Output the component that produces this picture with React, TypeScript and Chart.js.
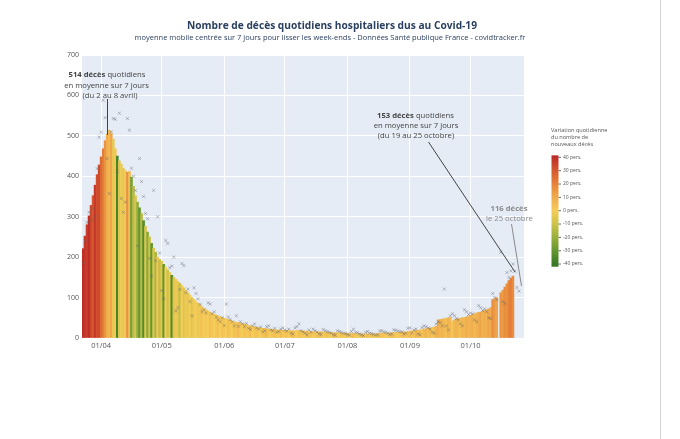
import React, { useEffect, useRef } from "react";
import { Chart, registerables } from "chart.js";

Chart.register(...registerables);

// ---- data (starting 23 March 2020) ----
const START_YEAR = 2020;
const START_MONTH = 2; // March (0-based)
const START_DAY = 23;
const N_DAYS = 219; // axis range 23/03 -> 27/10

// 7-day centred moving average of hospital deaths
const avgMarch = [221, 252, 280, 302, 328, 352, 378, 404, 428];
const avgApril = [448, 468, 488, 504, 514, 506, 492, 468, 450, 438, 430, 420, 414, 410, 412, 398, 375, 352, 336, 322, 308, 290, 276, 262, 250, 234, 222, 212, 200, 194];
const avgMay = [190, 182, 175, 168, 162, 155, 150, 145, 140, 135, 130, 124, 118, 112, 106, 100, 95, 90, 86, 82, 77, 73, 70, 67, 64, 61, 59, 57, 55, 53, 51];
const avgJune = [49, 47, 46, 44, 42, 40, 39, 38, 37, 36, 35, 33, 31, 30, 29, 28, 27, 26, 25, 24, 24, 23, 22, 22, 21, 21, 20, 20, 19, 19];
const avgJuly = [19, 19, 19, 18, 18, 18, 19, 19, 18, 18, 17, 17, 16, 16, 16, 15, 15, 15, 15, 15, 15, 14, 14, 14, 13, 13, 13, 13, 12, 12, 12];
const avgAugust = [12, 12, 11, 11, 11, 11, 11, 10, 10, 10, 10, 10, 10, 10, 11, 11, 11, 12, 12, 12, 12, 13, 13, 13, 14, 14, 14, 15, 15, 15, 16];
const avgSeptember = [17, 18, 18, 19, 19, 20, 21, 22, 23, 24, 25, 26, 27, 29, 45, 46, 47, 48, 49, 50, 51, 42, 45, 47, 48, 49, 50, 51, 52, 54];
const avgOctober = [56, 58, 60, 62, 63, 64, 66, 68, 70, 72, 75, 95, 97, 100, null, 112, 118, 126, 134, 142, 148, 153];

// daily reported deaths (markers)
const dailyMarch = [186, 240, 286, 311, 290, 320, 300, 419, 497];
const dailyApril = [509, 588, 545, 444, 357, 510, 543, 541, 412, 556, 345, 311, 336, 543, 514, 420, 400, 365, 228, 444, 387, 350, 308, 295, 197, 154, 365, 191, 300, 210];
const dailyMay = [117, 97, 241, 234, 174, 178, 200, 67, 75, 120, 184, 179, 112, 121, 90, 55, 124, 110, 97, 83, 65, 70, 62, 87, 84, 60, 65, 52, 45, 40, 50];
const dailyJune = [31, 84, 52, 45, 40, 30, 55, 29, 40, 35, 28, 36, 24, 21, 30, 35, 25, 22, 27, 15, 18, 28, 30, 20, 18, 24, 14, 16, 22, 25];
const dailyJuly = [20, 17, 22, 12, 10, 25, 28, 35, 18, 15, 12, 8, 20, 14, 22, 18, 15, 10, 9, 21, 18, 16, 14, 12, 8, 7, 18, 16, 14, 12, 11];
const dailyAugust = [9, 7, 16, 22, 14, 13, 10, 8, 6, 14, 16, 12, 11, 9, 7, 8, 17, 18, 15, 14, 12, 9, 10, 20, 19, 17, 16, 15, 10, 12, 24];
const dailySeptember = [25, 12, 20, 22, 10, 8, 26, 30, 28, 25, 22, 14, 12, 35, 40, 38, 30, 121, 30, 20, 55, 60, 55, 48, 45, 35, 30, 70, 65, 58];
const dailyOctober = [62, 60, 45, 40, 80, 75, 68, 72, 65, 50, 48, 110, 100, 95, null, 212, 90, 85, 162, 150, 166, 183, 165, 125, 116];

// daily variation (colour of each bar)
const varMarch = [40, 38, 36, 40, 34, 30, 38, 32, 34];
const varApril = [26, 22, 16, 10, 6, 12, -4, 2, -36, -6, -2, -4, 2, 16, 6, -26, -14, -8, -20, -30, -14, -34, -6, -22, -10, -30, -6, -16, 2, -12];
const varMay = [-6, -30, 0, -10, -4, -34, -6, 2, -4, -12, 0, -6, 2, -4, 0, -6, 2, 0, -4, 2, 4, 0, 2, 0, 4, 2, 0, 2, 4, 0, 2];
const varJune = [2, 0, 4, 2, 0, 4, 2, 6, 2, 0, 4, 2, 2, 6, 0, 2, 4, 2, 0, 2, 4, 6, 2, 0, 2, 4, 2, 0, 6, 2];
const varJuly = [2, 4, 0, 2, 6, 2, 0, 4, 2, 2, 0, 6, 2, 4, 0, 2, 2, 4, 6, 0, 2, 4, 2, 0, 2, 6, 2, 0, 4, 2, 2];
const varAugust = [4, 0, 2, 6, 2, 0, 2, 4, 2, 0, 6, 2, 4, 2, 0, 2, 6, 2, 4, 0, 2, 2, 6, 4, 2, 0, 2, 4, 6, 2, 4];
const varSeptember = [6, 4, 2, 8, 4, 6, 2, 6, 8, 4, 6, 2, 4, 8, 10, 6, 8, 6, 4, 8, 6, 2, 6, 8, 6, 4, 8, 6, 10, 8];
const varOctober = [8, 10, 6, 8, 10, 12, 8, 10, 8, 12, 10, 18, 14, 12, 0, 16, 14, 18, 16, 20, 22, 18];

const colorbarTicks = [40, 30, 20, 10, 0, -10, -20, -30, -40];

const TITLE = "Nombre de décès quotidiens hospitaliers dus au Covid-19";
const SUBTITLE = "moyenne mobile centrée sur 7 jours pour lisser les week-ends - Données Santé publique France - covidtracker.fr";

// colour scale
const STOPS: [number, number[]][] = [
  [-40, [56, 122, 38]],
  [-30, [100, 150, 45]],
  [-20, [150, 175, 60]],
  [-10, [205, 195, 75]],
  [0, [245, 205, 88]],
  [10, [240, 172, 78]],
  [20, [230, 132, 58]],
  [30, [214, 88, 46]],
  [40, [190, 45, 40]],
];
function colorFor(v: number): string {
  const x = Math.max(-40, Math.min(40, v));
  for (let i = 0; i < STOPS.length - 1; i++) {
    const [a, ca] = STOPS[i];
    const [b, cb] = STOPS[i + 1];
    if (x >= a && x <= b) {
      const t = (x - a) / (b - a);
      const c = ca.map((c0, k) => Math.round(c0 + (cb[k] - c0) * t));
      return `rgb(${c[0]},${c[1]},${c[2]})`;
    }
  }
  return "rgb(245,205,88)";
}

const pad = (n: number) => (n < 10 ? "0" + n : "" + n);
const labels: string[] = [];
for (let i = 0; i < N_DAYS; i++) {
  const d = new Date(START_YEAR, START_MONTH, START_DAY + i);
  labels.push(pad(d.getDate()) + "/" + pad(d.getMonth() + 1));
}

const avgValues = [...avgMarch, ...avgApril, ...avgMay, ...avgJune, ...avgJuly, ...avgAugust, ...avgSeptember, ...avgOctober];
const dailyValues = [...dailyMarch, ...dailyApril, ...dailyMay, ...dailyJune, ...dailyJuly, ...dailyAugust, ...dailySeptember, ...dailyOctober];
const variation = [...varMarch, ...varApril, ...varMay, ...varJune, ...varJuly, ...varAugust, ...varSeptember, ...varOctober];
const barColors = variation.map(colorFor);

const FONT = "'Open Sans', 'Noto Sans', sans-serif";

function drawRich(ctx: CanvasRenderingContext2D, parts: [string, boolean][], cx: number, y: number, size: number, color: string) {
  let total = 0;
  const widths = parts.map(([t, b]) => {
    ctx.font = `${b ? "bold " : ""}${size}px ${FONT}`;
    const w = ctx.measureText(t).width;
    total += w;
    return w;
  });
  let x = cx - total / 2;
  ctx.fillStyle = color;
  ctx.textBaseline = "middle";
  ctx.textAlign = "left";
  parts.forEach(([t, b], i) => {
    ctx.font = `${b ? "bold " : ""}${size}px ${FONT}`;
    ctx.fillText(t, x, y);
    x += widths[i];
  });
}

function line(ctx: CanvasRenderingContext2D, x1: number, y1: number, x2: number, y2: number, color: string) {
  ctx.beginPath();
  ctx.strokeStyle = color;
  ctx.lineWidth = 1;
  ctx.moveTo(x1, y1);
  ctx.lineTo(x2, y2);
  ctx.stroke();
}

const bgPlugin = {
  id: "plotBg",
  beforeDraw(chart: any) {
    const { ctx, chartArea } = chart;
    ctx.save();
    ctx.fillStyle = "#fff";
    ctx.fillRect(0, 0, chart.width, chart.height);
    ctx.fillStyle = "#e5ecf6";
    ctx.fillRect(chartArea.left, chartArea.top, chartArea.right - chartArea.left, chartArea.bottom - chartArea.top);
    ctx.restore();
  },
};

const ANN = 7.7;

const decoPlugin = {
  id: "deco",
  afterDraw(chart: any) {
    const ctx: CanvasRenderingContext2D = chart.ctx;
    ctx.save();
    // title & subtitle
    drawRich(ctx, [[TITLE, true]], 332, 26.5, 10.2, "#2a3f5f");
    drawRich(ctx, [[SUBTITLE, false]], 330, 37.5, 7.5, "#2a3f5f");

    // left annotation
    drawRich(ctx, [["514 décès", true], [" quotidiens", false]], 107, 75, ANN, "#444");
    drawRich(ctx, [["en moyenne sur 7 jours", false]], 106.5, 85.5, ANN, "#444");
    drawRich(ctx, [["(du 2 au 8 avril)", false]], 110, 95.5, ANN, "#444");
    line(ctx, 107.5, 99, 107.5, 135, "#444");

    // right annotation
    drawRich(ctx, [["153 décès", true], [" quotidiens", false]], 415.5, 116, ANN, "#444");
    drawRich(ctx, [["en moyenne sur 7 jours", false]], 416, 126, ANN, "#444");
    drawRich(ctx, [["(du 19 au 25 octobre)", false]], 416, 135.5, ANN, "#444");
    line(ctx, 428.5, 142, 515, 272, "#444");

    drawRich(ctx, [["116 décès", true]], 509, 208.5, ANN, "#8a8a8a");
    drawRich(ctx, [["le 25 octobre", false]], 509.5, 218.5, ANN, "#8a8a8a");
    line(ctx, 511.5, 224, 521.5, 286, "#8a8a8a");

    // colour bar
    const x0 = 551.5, w = 7;
    const y0 = 210.7, k = 1.334;
    const top = y0 - 41.5 * k, bottom = y0 + 42 * k;
    const grad = ctx.createLinearGradient(0, y0 - 40 * k, 0, y0 + 40 * k);
    [...STOPS].reverse().forEach(([v, c]) => {
      grad.addColorStop((40 - v) / 80, `rgb(${c[0]},${c[1]},${c[2]})`);
    });
    ctx.fillStyle = grad;
    ctx.fillRect(x0, top, w, bottom - top);
    ctx.textAlign = "left";
    ctx.textBaseline = "middle";
    colorbarTicks.forEach((v) => {
      const y = y0 - v * k;
      line(ctx, x0 + w, y, x0 + w + 2.5, y, "#666");
      ctx.fillStyle = "#555";
      ctx.font = `5px ${FONT}`;
      ctx.fillText(`${v} pers.`, x0 + w + 4.5, y);
    });
    ctx.fillStyle = "#555";
    ctx.font = `5.6px ${FONT}`;
    ctx.fillText("Variation quotidienne", 551, 130);
    ctx.fillText("du nombre de", 551, 137);
    ctx.fillText("nouveaux décès", 551, 144);

    // page border on the right
    line(ctx, 660.5, 0, 660.5, chart.height, "#d6d6d6");
    ctx.restore();
  },
};

export default function App() {
  const ref = useRef<HTMLCanvasElement | null>(null);
  useEffect(() => {
    if (!ref.current) return;
    const chart = new Chart(ref.current, {
      type: "bar",
      data: {
        labels,
        datasets: [
          {
            type: "line",
            data: dailyValues as any,
            showLine: false,
            pointStyle: "crossRot",
            pointRadius: 2.2,
            pointBorderWidth: 0.8,
            pointBorderColor: "rgba(95,95,105,0.5)",
            pointBackgroundColor: "rgba(0,0,0,0)",
            borderColor: "rgba(95,95,105,0.5)",
            order: 0,
          } as any,
          {
            type: "bar",
            data: avgValues as any,
            backgroundColor: barColors,
            borderWidth: 0,
            barPercentage: 1,
            categoryPercentage: 1,
            order: 1,
          } as any,
        ],
      },
      options: {
        animation: false,
        responsive: false,
        devicePixelRatio: 1,
        layout: { padding: { top: 55, right: 156, bottom: 81, left: 0 } },
        plugins: {
          legend: { display: false },
          tooltip: { enabled: false },
          title: { display: false },
        },
        scales: {
          x: {
            type: "category",
            grid: { color: "#ffffff", lineWidth: 1, offset: false, drawTicks: false },
            border: { display: false },
            ticks: {
              autoSkip: false,
              maxRotation: 0,
              padding: 3,
              color: "#555",
              font: { family: FONT, size: 7.5 },
            },
            afterBuildTicks: (scale: any) => {
              scale.ticks = scale.ticks.filter((t: any) => labels[t.value] && labels[t.value].startsWith("01/"));
            },
            afterFit: (scale: any) => {
              scale.height = 20;
            },
          },
          y: {
            min: 0,
            max: 700,
            grid: { color: "#ffffff", lineWidth: 1, drawTicks: false },
            border: { display: false },
            ticks: {
              stepSize: 100,
              padding: 3,
              color: "#555",
              font: { family: FONT, size: 7 },
            },
            afterFit: (scale: any) => {
              scale.width = 82;
            },
          },
        },
      },
      plugins: [bgPlugin, decoPlugin],
    });
    return () => chart.destroy();
  }, []);
  return (
    <div style={{ position: "fixed", left: 0, top: 0, width: 680, height: 439, background: "#fff" }}>
      <canvas ref={ref} width={680} height={439} style={{ display: "block", width: 680, height: 439 }} />
    </div>
  );
}
